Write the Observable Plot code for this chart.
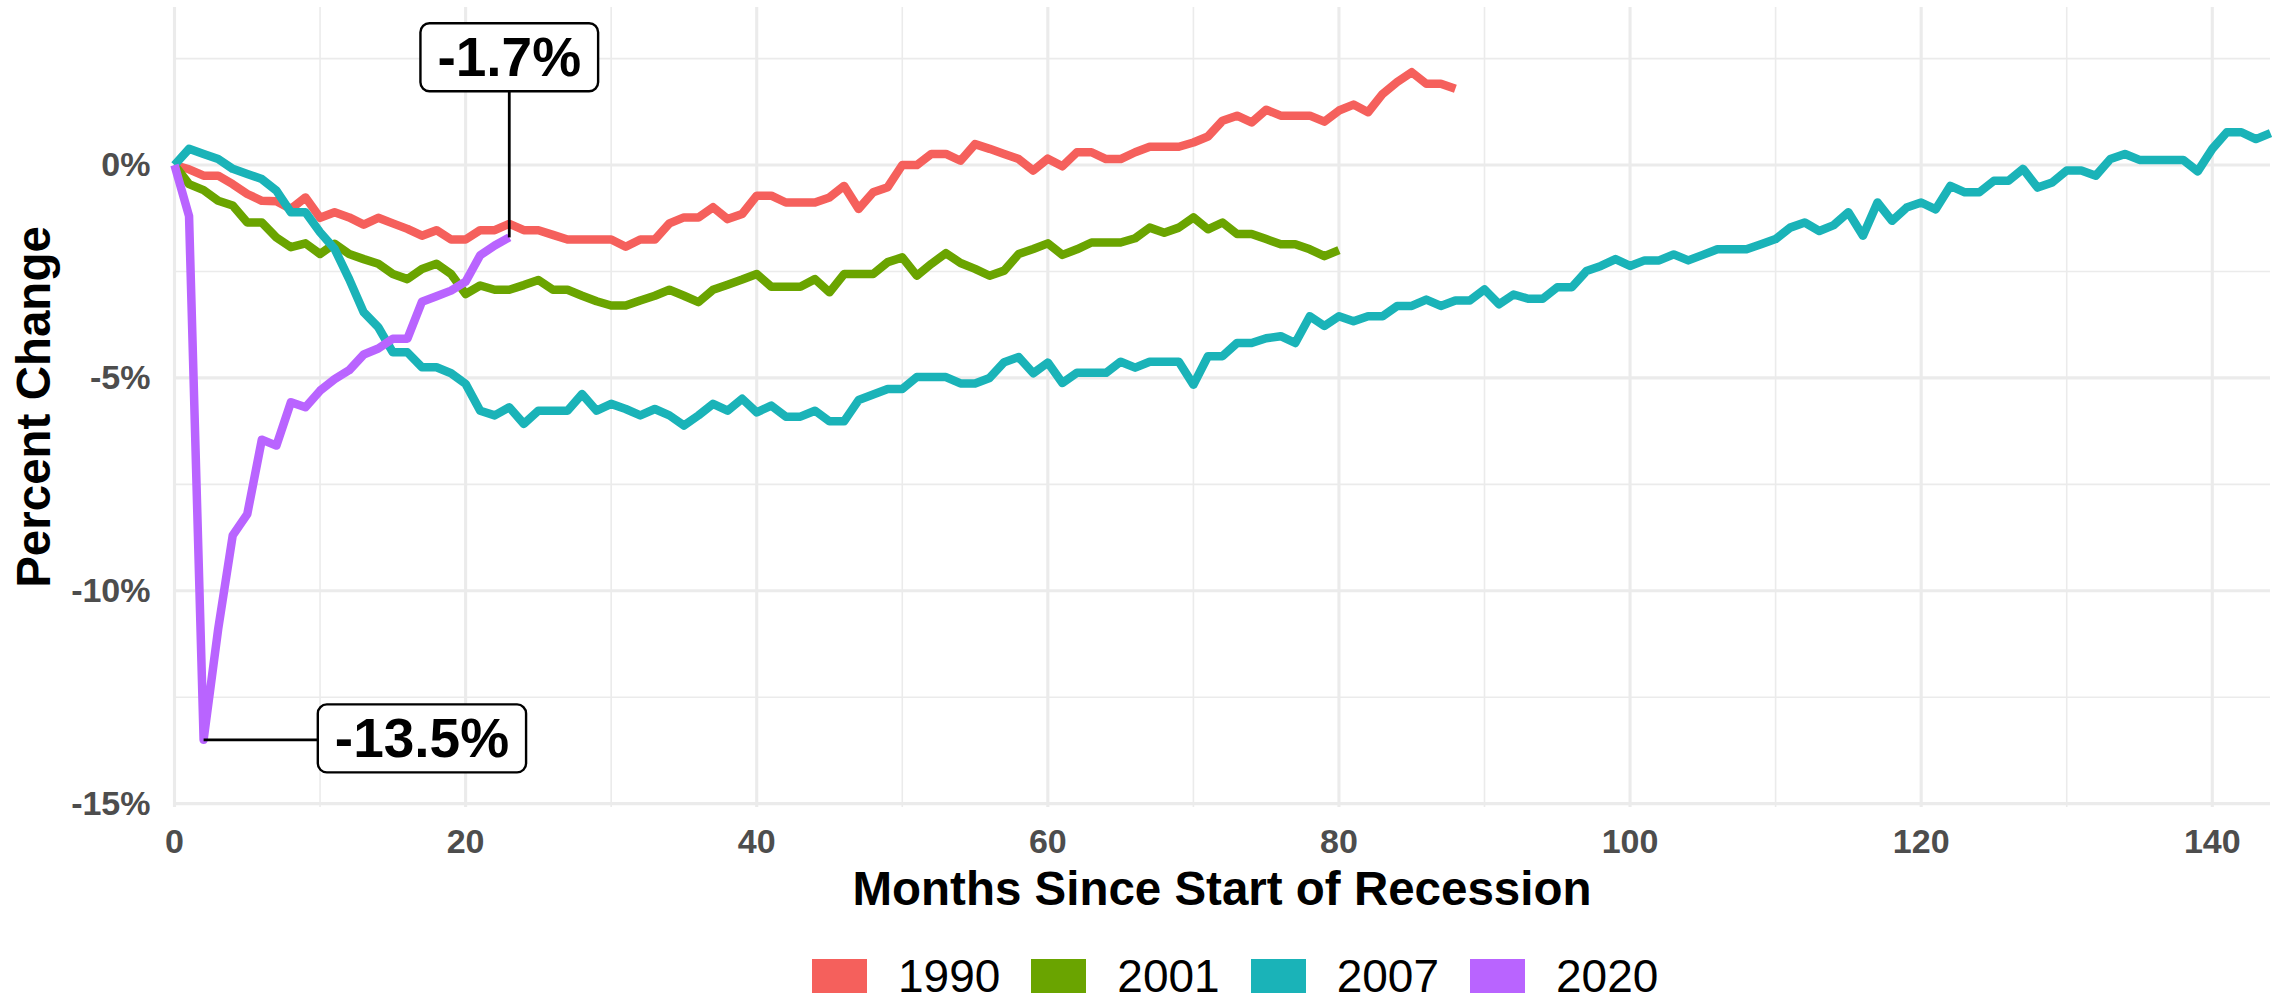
<!DOCTYPE html>
<html>
<head>
<meta charset="utf-8">
<script src="https://cdn.jsdelivr.net/npm/d3@7"></script>
<script src="https://cdn.jsdelivr.net/npm/@observablehq/plot@0.6"></script>
<style>
  html, body { margin: 0; padding: 0; background: #fff; }
  body { width: 2284px; height: 999px; overflow: hidden; font-family: "Liberation Sans", Arial, sans-serif; }
  #legend { height: 69px; box-sizing: border-box; padding-top: 22px; display: flex; align-items: center; }
  #legend .key { width: 55px; height: 34px; flex: none; }
  #legend .lab { font-size: 46px; line-height: 46px; color: #000; margin-left: 31px; margin-right: 31px; height: 47px; display: flex; align-items: center; }
</style>
</head>
<body>
<div id="chart"></div>
<div id="legend"></div>
<script>
// ---------- data ----------
const years = ["1990", "2001", "2007", "2020"];
const colors = ["#F5605C", "#6AA400", "#1AB3B8", "#B964FF"];

const v1990 = [0, -0.1, -0.25, -0.25, -0.45, -0.68, -0.84, -0.85, -1.03, -0.76,
  -1.24, -1.11, -1.23, -1.40, -1.24, -1.37, -1.50, -1.66, -1.53, -1.75,
  -1.75, -1.53, -1.53, -1.38, -1.53, -1.53, -1.64, -1.75, -1.75, -1.75,
  -1.75, -1.92, -1.75, -1.75, -1.37, -1.23, -1.23, -0.99, -1.27, -1.15,
  -0.72, -0.72, -0.88, -0.88, -0.88, -0.76, -0.49, -1.03, -0.64, -0.52,
  0.0, 0.0, 0.26, 0.26, 0.10, 0.49, 0.38, 0.26, 0.14, -0.13,
  0.15, -0.03, 0.30, 0.30, 0.14, 0.14, 0.30, 0.43, 0.43, 0.43,
  0.53, 0.67, 1.04, 1.16, 1.00, 1.30, 1.16, 1.16, 1.16, 1.02,
  1.28, 1.42, 1.24, 1.67, 1.95, 2.18, 1.91, 1.91, 1.79];

const v2001 = [0, -0.45, -0.59, -0.84, -0.95, -1.35, -1.35, -1.70, -1.93, -1.84,
  -2.09, -1.85, -2.09, -2.21, -2.32, -2.56, -2.68, -2.44, -2.32, -2.56,
  -3.03, -2.83, -2.93, -2.93, -2.82, -2.70, -2.93, -2.93, -3.07, -3.20,
  -3.30, -3.30, -3.18, -3.07, -2.93, -3.07, -3.22, -2.93, -2.81, -2.69,
  -2.56, -2.86, -2.86, -2.86, -2.68, -2.99, -2.56, -2.56, -2.56, -2.28,
  -2.17, -2.60, -2.32, -2.07, -2.30, -2.44, -2.60, -2.48, -2.09, -1.97,
  -1.84, -2.11, -1.98, -1.82, -1.82, -1.82, -1.72, -1.47, -1.59, -1.47,
  -1.23, -1.51, -1.35, -1.62, -1.62, -1.74, -1.86, -1.86, -1.98, -2.14,
  -2.00];

const v2007 = [0, 0.38, 0.26, 0.14, -0.09, -0.21, -0.33, -0.60, -1.11, -1.11,
  -1.58, -1.97, -2.68, -3.46, -3.81, -4.40, -4.40, -4.75, -4.75, -4.89,
  -5.14, -5.77, -5.88, -5.69, -6.08, -5.77, -5.77, -5.77, -5.38, -5.77,
  -5.61, -5.73, -5.88, -5.73, -5.88, -6.12, -5.88, -5.61, -5.77, -5.49,
  -5.81, -5.65, -5.91, -5.91, -5.77, -6.02, -6.02, -5.52, -5.39, -5.26,
  -5.26, -4.98, -4.98, -4.98, -5.13, -5.13, -5.00, -4.63, -4.51, -4.89,
  -4.64, -5.12, -4.88, -4.88, -4.88, -4.62, -4.76, -4.62, -4.62, -4.62,
  -5.16, -4.49, -4.49, -4.18, -4.18, -4.07, -4.02, -4.18, -3.55, -3.78,
  -3.55, -3.67, -3.55, -3.55, -3.31, -3.31, -3.16, -3.31, -3.18, -3.18,
  -2.92, -3.27, -3.04, -3.14, -3.14, -2.87, -2.87, -2.49, -2.37, -2.21,
  -2.37, -2.24, -2.24, -2.10, -2.24, -2.11, -1.98, -1.98, -1.98, -1.86,
  -1.74, -1.47, -1.35, -1.55, -1.41, -1.11, -1.66, -0.88, -1.31, -1.00,
  -0.88, -1.04, -0.49, -0.64, -0.64, -0.37, -0.37, -0.09, -0.53, -0.41,
  -0.13, -0.13, -0.25, 0.14, 0.26, 0.12, 0.12, 0.12, 0.12, -0.15,
  0.38, 0.77, 0.77, 0.61, 0.75];

const v2020 = [0, -1.2, -13.5, -10.9, -8.7, -8.2, -6.45, -6.59, -5.57, -5.69,
  -5.30, -5.03, -4.82, -4.45, -4.31, -4.08, -4.08, -3.21, -3.08, -2.95,
  -2.74, -2.12, -1.89, -1.7];

const xMajorTicks = [0, 20, 40, 60, 80, 100, 120, 140];
const xMinorTicks = [10, 30, 50, 70, 90, 110, 130];
const yMajorTicks = [0, -5, -10, -15];
const yMinorTicks = [2.5, -2.5, -7.5, -12.5];
const xDomain = [0, 144];
const yDomain = [-15.09, 3.70];

// annotations
const labelTexts = ["-1.7%", "-13.5%"];
const labelMonths = [23, 17];
const labelValues = [2.5, -13.5];
const pointMonths = [23, 2];
const pointValues = [-1.7, -13.5];

const xTitle = "Months Since Start of Recession";
const yTitle = "Percent Change";

// ---------- build tables ----------
const series = [v1990, v2001, v2007, v2020];
const rows = years.flatMap((yr, i) => series[i].map((v, m) => ({year: yr, month: m, value: v})));
const labels = labelTexts.map((t, i) => ({text: t, x: labelMonths[i], y: labelValues[i]}));
const connectors = labelTexts.map((t, i) => ({x1: pointMonths[i], y1: pointValues[i], x2: labelMonths[i], y2: labelValues[i]}));

const W = 2284, H = 930;
const mL = 174, mR = 14, mT = 7, mB = 123;
const FONT = "'Liberation Sans', Arial, Helvetica, sans-serif";

const chart = Plot.plot({
  width: W, height: H,
  marginLeft: mL, marginRight: mR, marginTop: mT, marginBottom: mB,
  style: {fontFamily: FONT, background: "#fff", overflow: "visible"},
  x: {domain: xDomain},
  y: {domain: yDomain},
  color: {domain: years, range: colors},
  marks: [
    Plot.ruleX(xMinorTicks, {stroke: "#EBEBEB", strokeWidth: 1.6}),
    Plot.ruleY(yMinorTicks, {stroke: "#EBEBEB", strokeWidth: 1.6}),
    Plot.ruleX(xMajorTicks, {stroke: "#EBEBEB", strokeWidth: 3.1}),
    Plot.ruleY(yMajorTicks, {stroke: "#EBEBEB", strokeWidth: 3.1}),
    Plot.axisX(xMajorTicks, {tickSize: 0, tickPadding: 21, fontSize: 34, fontWeight: "bold", color: "#4D4D4D", label: null}),
    Plot.axisY(yMajorTicks, {tickSize: 0, tickPadding: 24, tickFormat: d => `${d}%`, fontSize: 34, fontWeight: "bold", color: "#4D4D4D", label: null}),
    Plot.line(rows, {x: "month", y: "value", z: "year", stroke: "year", strokeWidth: 8.5, strokeLinejoin: "round", strokeLinecap: "butt"}),
    Plot.link(connectors, {x1: "x1", y1: "y1", x2: "x2", y2: "y2", stroke: "#000", strokeWidth: 2.8}),
    Plot.text(labels, {x: "x", y: "y", text: "text", fontSize: 55, fontWeight: "bold", fill: "#000"})
  ]
});

document.getElementById("chart").appendChild(chart);
const svg = d3.select(chart);

// label boxes behind annotation texts
svg.selectAll('g[aria-label="text"] text').each(function () {
  const b = this.getBBox();
  const padX = 17, h = 68;
  const cy = b.y + b.height / 2;
  const r = document.createElementNS("http://www.w3.org/2000/svg", "rect");
  r.setAttribute("x", b.x - padX);
  r.setAttribute("y", cy - h / 2);
  r.setAttribute("width", b.width + 2 * padX);
  r.setAttribute("height", h);
  r.setAttribute("rx", 9);
  r.setAttribute("fill", "#fff");
  r.setAttribute("stroke", "#000");
  r.setAttribute("stroke-width", 2.4);
  const tr = this.getAttribute("transform");
  if (tr) r.setAttribute("transform", tr);
  this.parentNode.insertBefore(r, this);
});

// axis titles
const cx = (mL + W - mR) / 2;
const cyPanel = (mT + H - mB) / 2;
svg.append("text")
  .attr("x", cx).attr("y", 905)
  .attr("text-anchor", "middle")
  .attr("font-family", FONT).attr("font-size", 47.5).attr("font-weight", "bold").attr("fill", "#000")
  .text(xTitle);
svg.append("text")
  .attr("transform", `translate(50,${cyPanel}) rotate(-90)`)
  .attr("text-anchor", "middle")
  .attr("font-family", FONT).attr("font-size", 47.5).attr("font-weight", "bold").attr("fill", "#000")
  .text(yTitle);

// legend (below the svg)
const scale = chart.scale("color");
const legend = d3.select("#legend").style("padding-left", "812px");
scale.domain.forEach((d, i) => {
  legend.append("div").attr("class", "key").style("background", scale.range[i]);
  legend.append("div").attr("class", "lab").style("margin-right", i < scale.domain.length - 1 ? "31px" : "0").text(d);
});
</script>
</body>
</html>
